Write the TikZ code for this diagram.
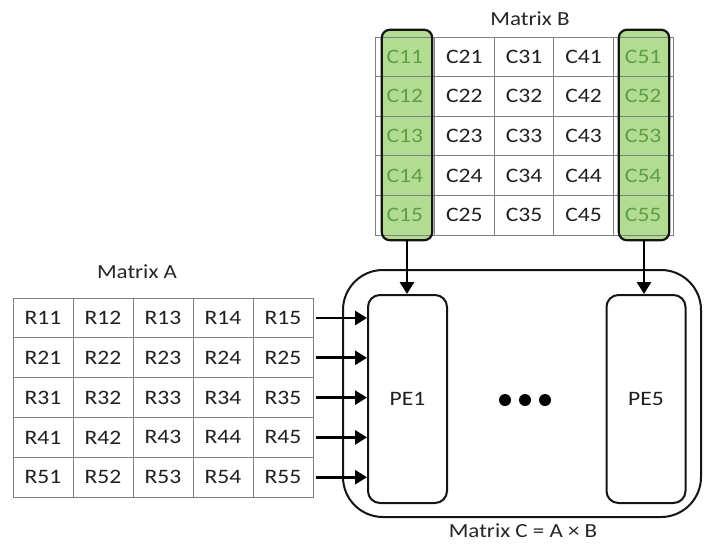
\documentclass[tikz,border=0pt]{standalone}
\usepackage{fontspec}
\setmainfont{Carlito}[FakeStretch=1.15]
\usetikzlibrary{arrows.meta}
\definecolor{gfill}{HTML}{B3DC93}
\definecolor{gtext}{HTML}{5E9E45}
\definecolor{gridc}{HTML}{808080}
\definecolor{lineC}{HTML}{141414}
\begin{document}
\begin{tikzpicture}[x=1pt,y=-1pt,
  txt/.style={font=\fontsize{20.5}{24}\selectfont, text=black!88},
  bcell/.style={txt, draw=gridc, line width=1pt, minimum width=59.6pt, minimum height=39.6pt, inner sep=0pt},
  acell/.style={txt, draw=gridc, line width=1pt, minimum width=60pt, minimum height=39.8pt, inner sep=0pt},
  gcol/.style={fill=gfill, minimum width=50pt, minimum height=210pt, inner sep=0pt, rounded corners=8pt},
  gborder/.style={draw=lineC, line width=2.2pt, rounded corners=8pt},
  pebox/.style={txt, draw=lineC, line width=2pt, rounded corners=12pt, minimum width=79pt, minimum height=208pt, inner sep=0pt},
  outer/.style={draw=lineC, line width=2pt, rounded corners=40pt, minimum width=358pt, minimum height=247pt, inner sep=0pt},
  arr/.style={draw=black, line width=2.8pt, -{Triangle[length=12pt,width=14pt]}},
  dot/.style={circle, fill=black, minimum size=12pt, inner sep=0pt},
  title/.style={font=\fontsize{20}{23}\selectfont, text=black!85}
]
\useasboundingbox[fill=white] (0,0) rectangle (704,544);

% green column backgrounds
\node[gcol] (g1) at (407,135) {};
\node[gcol] (g5) at (644,135) {};

% Matrix B
\node[title] (tB) at (530,19) {Matrix B};
\foreach \c in {1,...,5}{
  \foreach \r in {1,...,5}{
    \ifnum\c=1 \def\tc{gtext}\else\ifnum\c=5 \def\tc{gtext}\else\def\tc{black!88}\fi\fi
    \node[bcell, text=\tc] (b\c\r) at ({375+29.8+59.6*(\c-1)},{56.8+39.6*(\r-1)}) {C\c\r};
  }
}
\draw[gborder] (g1.south west) rectangle (g1.north east);
\draw[gborder] (g5.south west) rectangle (g5.north east);

% Matrix A
\node[title] (tA) at (137,272) {Matrix A};
\foreach \r in {1,...,5}{
  \foreach \c in {1,...,5}{
    \node[acell] (a\r\c) at ({43+60*(\c-1)},{318+39.8*(\r-1)}) {R\r\c};
  }
}

% Matrix C
\node[outer] (C) at (522,393.5) {};
\node[pebox] (pe1) at (407.5,399) {PE1};
\node[pebox] (pe5) at (646,399) {PE5};
\node[dot] (d1) at (505,400) {};
\node[dot] (d2) at (525,400) {};
\node[dot] (d3) at (545,400) {};
\node[title] (tC) at (523,531) {Matrix C = A × B};

% arrows
\foreach \r in {1,...,5}{
  \draw[arr, shorten <=2pt] (a\r5.east) -- (a\r5.east -| pe1.west);
}
\draw[arr] (g1.south) -- (g1.south |- pe1.north);
\draw[arr] (g5.south) -- (g5.south |- pe5.north);
\end{tikzpicture}
\end{document}
